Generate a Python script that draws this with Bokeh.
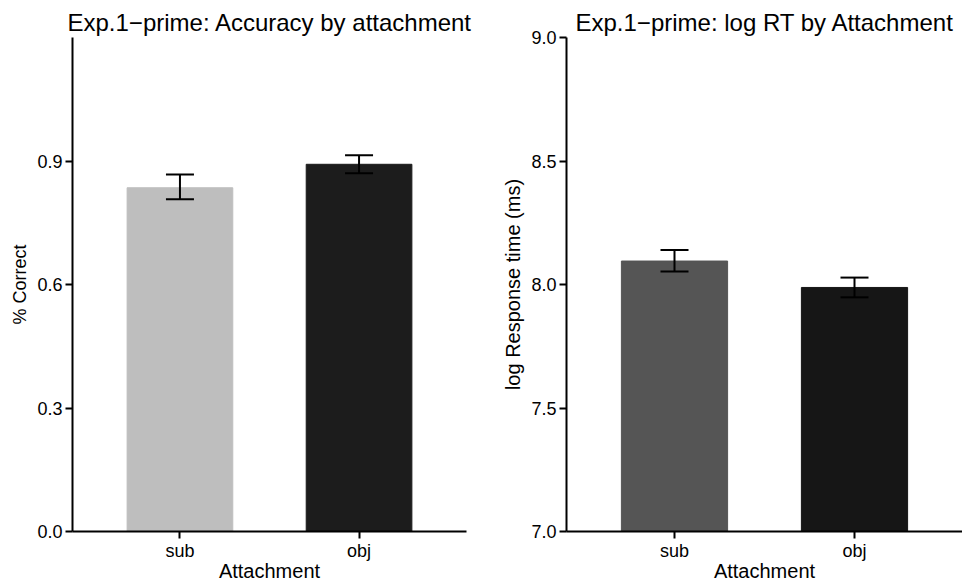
from bokeh.plotting import figure
from bokeh.layouts import row
from bokeh.models import ColumnDataSource, Whisker, TeeHead, FixedTicker, PrintfTickFormatter, FactorRange, Range1d
from bokeh.embed import file_html
from bokeh.resources import INLINE

# ---- data ----
categories = ["sub", "obj"]

acc_mean = [0.835, 0.892]
acc_lower = [0.807, 0.870]
acc_upper = [0.867, 0.914]
acc_colors = ["#bebebe", "#1c1c1c"]

rt_mean = [8.095, 7.988]
rt_lower = [8.053, 7.948]
rt_upper = [8.140, 8.028]
rt_colors = ["#555555", "#161616"]

acc_ticks = [0.0, 0.3, 0.6, 0.9]
rt_ticks = [7.0, 7.5, 8.0, 8.5, 9.0]

FONT = "Liberation Sans"


def make_panel(title, ylabel, ylabel_size, means, lows, ups, colors, yr, yticks,
               border_left, frame_w, border_right, title_offset):
    src = ColumnDataSource(dict(x=categories, top=means, lower=lows, upper=ups, color=colors))
    p = figure(x_range=FactorRange(factors=categories, range_padding=0.1,
                                   range_padding_units="absolute"),
               y_range=Range1d(*yr),
               frame_width=frame_w, frame_height=494,
               min_border_left=border_left, min_border_right=border_right,
               min_border_top=37, min_border_bottom=51,
               output_backend="svg", toolbar_location=None,
               title=title)
    p.vbar(x="x", top="top", bottom=yr[0], width=0.59, color="color", source=src)
    w = Whisker(base="x", upper="upper", lower="lower", source=src,
                line_color="black", line_width=2, level="annotation",
                upper_head=TeeHead(size=28, line_color="black", line_width=2),
                lower_head=TeeHead(size=28, line_color="black", line_width=2))
    p.add_layout(w)

    p.title.text_font = FONT
    p.title.text_font_size = "24px"
    p.title.text_font_style = "normal"
    p.title.text_color = "black"
    p.title.align = "left"
    p.title.offset = title_offset
    p.title.standoff = 3

    p.xgrid.visible = False
    p.ygrid.visible = False
    p.outline_line_color = None
    p.background_fill_color = "white"
    p.border_fill_color = "white"

    p.yaxis.ticker = FixedTicker(ticks=yticks)
    p.yaxis.formatter = PrintfTickFormatter(format="%.1f")
    for ax in (p.xaxis[0], p.yaxis[0]):
        ax.axis_line_width = 2
        ax.axis_line_color = "black"
        ax.major_tick_line_width = 2
        ax.major_tick_line_color = "black"
        ax.major_tick_out = 7
        ax.major_tick_in = 0
        ax.minor_tick_line_color = None
        ax.major_label_text_font = FONT
        ax.major_label_text_font_size = "18px"
        ax.major_label_text_color = "black"
        ax.axis_label_text_font = FONT
        ax.axis_label_text_font_style = "normal"
        ax.axis_label_text_color = "black"
    p.xaxis.axis_label_text_font_size = "20px"
    p.yaxis.axis_label_text_font_size = ylabel_size
    p.xaxis.major_label_standoff = 2
    p.xaxis.axis_label_standoff = -4
    p.yaxis.major_label_standoff = 3
    p.yaxis.axis_label_standoff = 4
    p.xaxis.axis_label = "Attachment"
    p.yaxis.axis_label = ylabel
    return p


p1 = make_panel("Exp.1\u2212prime: Accuracy by attachment", "% Correct", "18px",
                acc_mean, acc_lower, acc_upper, acc_colors, (0, 1.2), acc_ticks,
                72, 394, 15, -5)
p2 = make_panel("Exp.1\u2212prime: log RT by Attachment", "log Response time (ms)", "20px",
                rt_mean, rt_lower, rt_upper, rt_colors, (7, 9), rt_ticks,
                85, 396, 0, 9)

layout = row(p1, p2)
open("out.html", "w").write(file_html(layout, INLINE))
